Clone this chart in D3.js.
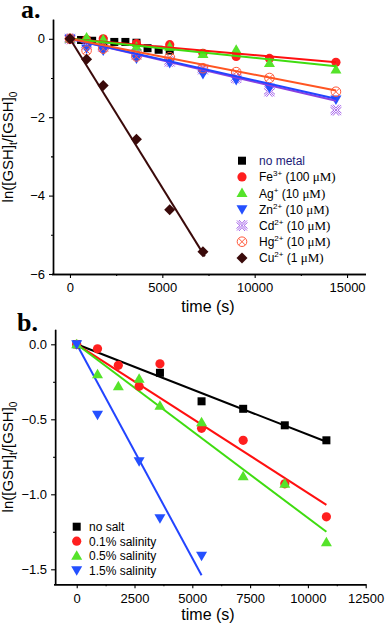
<!DOCTYPE html>
<html>
<head>
<meta charset="utf-8">
<script src="https://cdn.jsdelivr.net/npm/d3@7"></script>
<style>
  body { margin: 0; background: #fff; }
  svg { display: block; font-family: "Liberation Sans", Arial, sans-serif; }
</style>
</head>
<body>
<script>
// ---------- panel a data ----------
const timesA = [0, 900, 1800, 3600, 5400, 7200, 9000, 10800, 14400];
const noMetalTimes = [0, 600, 1200, 1800, 2400, 3000, 3600, 4200, 4800, 5400];
const noMetalVals = [0, -0.03, -0.05, -0.06, -0.08, -0.08, -0.1, -0.24, -0.28, -0.3];
const feVals = [0, -0.02, 0, -0.12, -0.15, -0.37, -0.45, -0.5, -0.6];
const agVals = [0, 0.03, -0.02, -0.2, -0.2, -0.39, -0.28, -0.62, -0.78];
const znVals = [0, -0.25, -0.3, -0.5, -0.62, -0.9, -1.05, -1.25, -1.55];
const cdVals = [0, -0.15, -0.2, -0.4, -0.58, -0.78, -1.0, -1.34, -1.82];
const hgVals = [0, -0.3, -0.25, -0.45, -0.47, -0.75, -0.85, -1.0, -1.35];
const cuTimes = [0, 900, 1800, 3600, 5400, 7200];
const cuVals = [0, -0.52, -1.19, -2.56, -4.36, -5.43];
// fitted lines (end time, end value; all start at 0,0)
const fitNamesA = ["fe", "ag", "cd", "zn", "hg", "cu"];
const fitEndTimeA = [14400, 14400, 14400, 14400, 14400, 7300];
const fitEndValA = [-0.6, -0.7, -1.58, -1.53, -1.32, -5.55];
const ticksXA = [0, 5000, 10000, 15000];
const ticksYA = [0, -2, -4, -6];

// ---------- panel b data ----------
const timesB = [0, 900, 1800, 2700, 3600, 5400, 7200, 9000, 10800];
const noSaltTimes = [0, 3600, 5400, 7200, 9000, 10800];
const noSaltVals = [0, -0.19, -0.38, -0.43, -0.54, -0.64];
const sal01Vals = [0, -0.03, -0.14, -0.28, -0.13, -0.56, -0.64, -0.93, -1.15];
const sal05Vals = [0, -0.2, -0.28, -0.23, -0.41, -0.52, -0.88, -0.93, -1.32];
const sal15Times = [0, 900, 2700, 3600, 5400];
const sal15Vals = [0, -0.47, -0.78, -1.16, -1.41];
const fitEndTimeB = [10800, 10800, 10800, 5400];
const fitEndValB = [-0.65, -1.07, -1.25, -1.54];
const ticksXB = [0, 2500, 5000, 7500, 10000, 12500];
const ticksYB = [0, -0.5, -1.0, -1.5];

const col = {
  black: "#000000", red: "#ff1f1f", green: "#55e32a", blue: "#2450ff",
  purple: "#9a50e6", orange: "#ff5a3c", brown: "#3a0a0a",
  redLine: "#ff1010", greenLine: "#3fdc10", blueLine: "#2244ff",
  purpleLine: "#8a3fe0", orangeLine: "#ff5522"
};

const width = 386, height = 628;
const svg = d3.select("body").append("svg").attr("width", width).attr("height", height);

// marker drawing
function marker(g, type, x, y, color) {
  const s = g.append("g").attr("transform", `translate(${x},${y})`);
  if (type === "square") {
    s.append("rect").attr("x", -4).attr("y", -4).attr("width", 8).attr("height", 8).attr("fill", color);
  } else if (type === "circle") {
    s.append("circle").attr("r", 4.6).attr("fill", color);
  } else if (type === "up") {
    s.append("path").attr("d", "M0,-5.5L5.5,4L-5.5,4Z").attr("fill", color);
  } else if (type === "down") {
    s.append("path").attr("d", "M0,5.5L5.5,-4L-5.5,-4Z").attr("fill", color);
  } else if (type === "diamond") {
    s.append("path").attr("d", "M0,-5.5L5.5,0L0,5.5L-5.5,0Z").attr("fill", color);
  } else if (type === "cross") {
    s.append("path")
      .attr("d", "M-5,-5L5,5M5,-5L-5,5M-5.5,-3L-2,0L-5.5,3M5.5,-3L2,0L5.5,3M-3,-5.5L0,-2L3,-5.5M-3,5.5L0,2L3,5.5")
      .attr("stroke", color).attr("stroke-width", 0.9).attr("fill", "none");
  } else if (type === "otimes") {
    s.append("circle").attr("r", 4.8).attr("fill", "none").attr("stroke", color).attr("stroke-width", 1);
    s.append("path").attr("d", "M-3.4,-3.4L3.4,3.4M3.4,-3.4L-3.4,3.4")
      .attr("stroke", color).attr("stroke-width", 1);
  }
}

function drawAxes(g, x, y, majX, minX, majY, minY, fmtY, yMid, xMid, axisBottom, labelY) {
  g.append("g").attr("transform", `translate(0,${axisBottom})`)
    .call(d3.axisBottom(x).tickValues(minX).tickSize(2).tickSizeOuter(0).tickFormat(""));
  g.append("g").attr("transform", `translate(0,${axisBottom})`)
    .call(d3.axisBottom(x).tickValues(majX).tickSize(4).tickSizeOuter(0).tickPadding(5).tickFormat(d3.format("d")));
  const leftX = x.range()[0] + 1.5;
  g.append("g").attr("transform", `translate(${leftX},0)`)
    .call(d3.axisLeft(y).tickValues(minY).tickSize(2).tickSizeOuter(0).tickFormat(""));
  g.append("g").attr("transform", `translate(${leftX},0)`)
    .call(d3.axisLeft(y).tickValues(majY).tickSize(4).tickSizeOuter(0).tickPadding(4).tickFormat(fmtY));
  g.selectAll(".domain").attr("stroke-width", 1.4);
  g.selectAll(".tick line").attr("stroke-width", 1.1);
  g.selectAll(".tick text").attr("font-size", 13).attr("font-family", "'Liberation Sans', Arial, sans-serif").attr("fill", "#000");

  // axis titles
  g.append("text").attr("x", xMid).attr("y", labelY)
    .attr("text-anchor", "middle").attr("font-size", 16).text("time (s)");
  const yl = g.append("text").attr("transform", `translate(13,${yMid}) rotate(-90)`)
    .attr("text-anchor", "middle").attr("font-size", 15);
  yl.append("tspan").text("ln([GSH]");
  yl.append("tspan").attr("font-size", 10).attr("dy", 4).text("t");
  yl.append("tspan").attr("dy", -4).text("/[GSH]");
  yl.append("tspan").attr("font-size", 10).attr("dy", 4).text("0");
}

function fitLine(g, x, y, t1, v1, color) {
  g.append("line")
    .attr("x1", x(0)).attr("y1", y(0))
    .attr("x2", x(t1)).attr("y2", y(v1))
    .attr("stroke", color).attr("stroke-width", 2);
}

function legendRow(g, lx, ly, type, color, parts, textColor) {
  marker(g, type, lx, ly, color);
  const t = g.append("text").attr("x", lx + 17).attr("y", ly + 4.5)
    .attr("font-size", 12).attr("fill", textColor || "#000");
  parts.forEach(p => {
    const ts = t.append("tspan").text(p.t);
    if (p.sup) ts.attr("font-size", 8).attr("dy", -5);
    if (p.after) ts.attr("dy", 5);
    if (p.serif) ts.attr("font-family", "'Liberation Serif', 'Times New Roman', serif").attr("font-size", 13);
  });
}

// ================= panel a =================
const xA = d3.scaleLinear().domain([-1000, 16000]).range([51.5, 365.5]);
const yA = d3.scaleLinear().domain([-6, 0.5]).range([274, 19.2]);
const gA = svg.append("g");

svg.append("text").attr("x", 21).attr("y", 18)
  .attr("font-family", "'Liberation Serif', 'Times New Roman', serif")
  .attr("font-weight", "bold").attr("font-size", 26).text("a.");

drawAxes(gA, xA, yA, ticksXA, [2500, 7500, 12500], ticksYA, [-1, -3, -5],
  d3.format("d"), 147, 208, 274, 312);

// series a
const plotA = gA.append("g");
noMetalTimes.forEach((t, i) => marker(plotA, "square", xA(t), yA(noMetalVals[i]), col.black));
const lineColA = [col.redLine, col.greenLine, col.purpleLine, col.blueLine, col.orangeLine, col.brown];
const seriesA = [
  { v: feVals, type: "circle", c: col.red },
  { v: agVals, type: "up", c: col.green },
  { v: cdVals, type: "cross", c: col.purple },
  { v: znVals, type: "down", c: col.blue },
  { v: hgVals, type: "otimes", c: col.orange }
];
seriesA.forEach((s) => {
  s.v.forEach((v, i) => marker(plotA, s.type, xA(timesA[i]), yA(v), s.c));
});
fitNamesA.forEach((n, k) => fitLine(plotA, xA, yA, fitEndTimeA[k], fitEndValA[k], lineColA[k]));
cuTimes.forEach((t, i) => marker(plotA, "diamond", xA(t), yA(cuVals[i]), col.brown));

// legend a
const legA = gA.append("g");
const mu = { t: "\u03bcM)", serif: true };
const legAItems = [
  ["square", col.black, [{ t: "no metal" }], "#1b1b78"],
  ["circle", col.red, [{ t: "Fe" }, { t: "3+", sup: true }, { t: " (100 ", after: true }, mu]],
  ["up", col.green, [{ t: "Ag" }, { t: "+", sup: true }, { t: " (10 ", after: true }, mu]],
  ["down", col.blue, [{ t: "Zn" }, { t: "2+", sup: true }, { t: " (10 ", after: true }, mu]],
  ["cross", col.purple, [{ t: "Cd" }, { t: "2+", sup: true }, { t: " (10 ", after: true }, mu]],
  ["otimes", col.orange, [{ t: "Hg" }, { t: "2+", sup: true }, { t: " (10 ", after: true }, mu]],
  ["diamond", col.brown, [{ t: "Cu" }, { t: "2+", sup: true }, { t: " (1 ", after: true }, mu]]
];
legAItems.forEach((it, i) => legendRow(legA, 242, 160.7 + i * 16.2, it[0], it[1], it[2], it[3]));

// ================= panel b =================
const xB = d3.scaleLinear().domain([-1000, 12500]).range([53.6, 365.7]);
const yB = d3.scaleLinear().domain([-1.6, 0.1]).range([584.3, 329.3]);
const gB = svg.append("g");

svg.append("text").attr("x", 17).attr("y", 331)
  .attr("font-family", "'Liberation Serif', 'Times New Roman', serif")
  .attr("font-weight", "bold").attr("font-size", 26).text("b.");

drawAxes(gB, xB, yB, ticksXB, [1250, 3750, 6250, 8750, 11250], ticksYB, [-0.25, -0.75, -1.25],
  d3.format(".1f"), 457, 208, 584.3, 620);

const plotB = gB.append("g");
const lineColB = [col.black, col.redLine, col.greenLine, col.blueLine];
fitEndTimeB.forEach((t, k) => fitLine(plotB, xB, yB, t, fitEndValB[k], lineColB[k]));
noSaltTimes.forEach((t, i) => marker(plotB, "square", xB(t), yB(noSaltVals[i]), col.black));
sal01Vals.forEach((v, i) => marker(plotB, "circle", xB(timesB[i]), yB(v), col.red));
sal05Vals.forEach((v, i) => marker(plotB, "up", xB(timesB[i]), yB(v), col.green));
sal15Times.forEach((t, i) => marker(plotB, "down", xB(t), yB(sal15Vals[i]), col.blue));

const legB = gB.append("g");
const legBItems = [
  ["square", col.black, "no salt"],
  ["circle", col.red, "0.1% salinity"],
  ["up", col.green, "0.5% salinity"],
  ["down", col.blue, "1.5% salinity"]
];
legBItems.forEach((it, i) => {
  marker(legB, it[0], 76.7, 526.7 + i * 14.5, it[1]);
  legB.append("text").attr("x", 89).attr("y", 526.7 + i * 14.5 + 4.5)
    .attr("font-size", 12).text(it[2]);
});
</script>
</body>
</html>
